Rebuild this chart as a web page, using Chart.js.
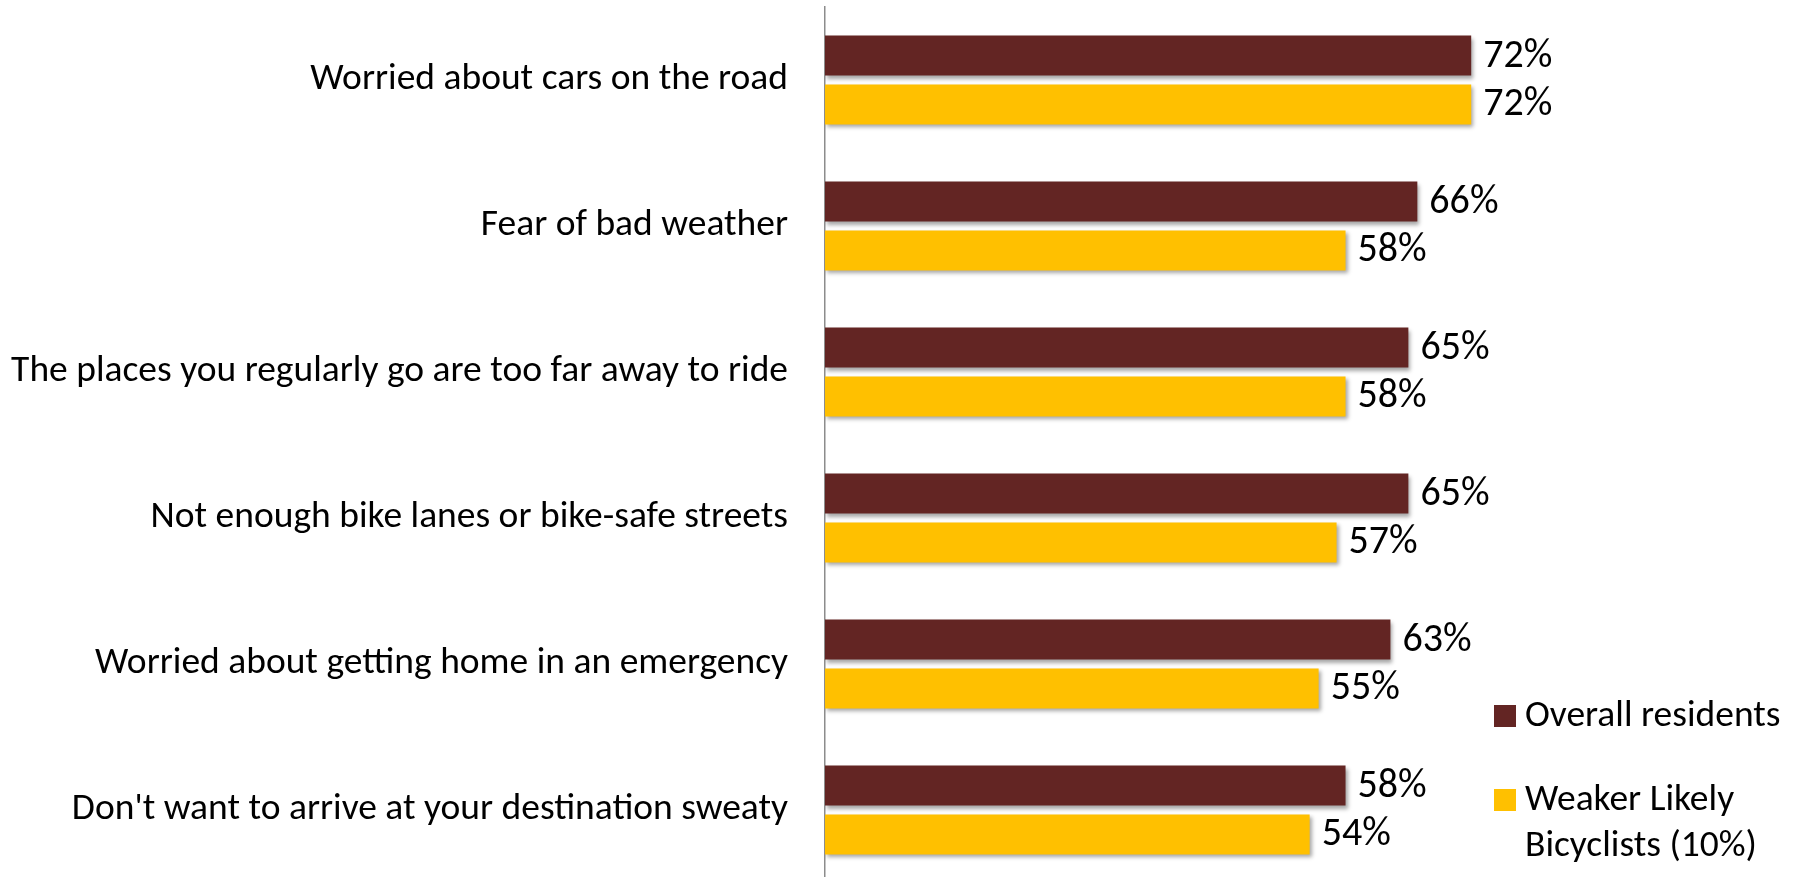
<!DOCTYPE html>
<html>
<head>
<meta charset="utf-8">
<script src="https://cdn.jsdelivr.net/npm/chart.js@4/dist/chart.umd.min.js"></script>
<style>
  html, body { margin: 0; padding: 0; background: #ffffff; overflow: hidden; }
  #wrap { position: absolute; left: 0; top: 0; width: 1801px; height: 900px; }
</style>
</head>
<body>
<div id="wrap"><canvas id="c"></canvas></div>
<script>
const categories = [
  "Worried about cars on the road",
  "Fear of bad weather",
  "The places you regularly go are too far away to ride",
  "Not enough bike lanes or bike-safe streets",
  "Worried about getting home in an emergency",
  "Don't want to arrive at your destination sweaty"
];
const overallResidents = [72, 66, 65, 65, 63, 58];
const weakerLikely = [72, 58, 58, 57, 55, 54];
const seriesNames = ["Overall residents", "Weaker Likely Bicyclists (10%)"];
const legendLines = [["Overall residents"], ["Weaker Likely", "Bicyclists (10%)"]];
const axisMin = 0;
const axisMax = 80;

const FONT = "Carlito, Calibri, Lato, sans-serif";
const COLORS = ["#632523", "#FFC000"];

const shadowPlugin = {
  id: "barShadow",
  beforeDatasetsDraw(chart) {
    const ctx = chart.ctx;
    ctx.save();
    ctx.shadowColor = "rgba(0,0,0,0.35)";
    ctx.shadowBlur = 4;
    ctx.shadowOffsetX = 2;
    ctx.shadowOffsetY = 3;
  },
  afterDatasetsDraw(chart) {
    chart.ctx.restore();
  }
};

const valueLabelPlugin = {
  id: "valueLabels",
  afterDatasetsDraw(chart) {
    const ctx = chart.ctx;
    ctx.save();
    ctx.shadowColor = "transparent";
    ctx.font = "40px " + FONT;
    ctx.fillStyle = "#000000";
    ctx.textAlign = "left";
    ctx.textBaseline = "middle";
    chart.data.datasets.forEach((ds, di) => {
      const meta = chart.getDatasetMeta(di);
      meta.data.forEach((bar, i) => {
        ctx.fillText(ds.data[i] + "%", bar.x + 12, bar.y + 1);
      });
    });
    ctx.restore();
  }
};

const legendPlugin = {
  id: "sideLegend",
  afterDraw(chart) {
    const ctx = chart.ctx;
    ctx.save();
    ctx.font = "37.5px " + FONT;
    ctx.textAlign = "left";
    ctx.textBaseline = "middle";
    const boxX = 1494, boxSize = 22, textX = 1525;
    const startY = [716, 800];
    const lineH = 46;
    chart.data.datasets.forEach((ds, di) => {
      const y = startY[di];
      ctx.fillStyle = ds.backgroundColor;
      ctx.fillRect(boxX, y - boxSize / 2, boxSize, boxSize);
      ctx.fillStyle = "#000000";
      legendLines[di].forEach((line, li) => {
        ctx.fillText(line, textX, y + li * lineH + 1);
      });
    });
    ctx.restore();
  }
};

new Chart(document.getElementById("c"), {
  type: "bar",
  data: {
    labels: categories,
    datasets: [
      { label: seriesNames[0], data: overallResidents, backgroundColor: COLORS[0],
        categoryPercentage: 0.668, barPercentage: 0.82 },
      { label: seriesNames[1], data: weakerLikely, backgroundColor: COLORS[1],
        categoryPercentage: 0.668, barPercentage: 0.82 }
    ]
  },
  options: {
    indexAxis: "y",
    responsive: true,
    maintainAspectRatio: false,
    animation: false,
    layout: { padding: { top: 7, bottom: 17, left: 0, right: 258 } },
    plugins: {
      legend: { display: false },
      tooltip: { enabled: false },
      title: { display: false }
    },
    scales: {
      x: {
        display: false,
        min: axisMin,
        max: axisMax
      },
      y: {
        grid: { display: false, drawTicks: false },
        border: { display: true, color: "#8c8c8c", width: 1.5 },
        ticks: {
          color: "#000000",
          font: { family: FONT, size: 37.5 },
          padding: 37
        },
        afterFit(scale) {
          scale.width = 825;
          scale.paddingTop = 0;
          scale.paddingBottom = 0;
        }
      }
    }
  },
  plugins: [shadowPlugin, valueLabelPlugin, legendPlugin]
});
</script>
</body>
</html>
